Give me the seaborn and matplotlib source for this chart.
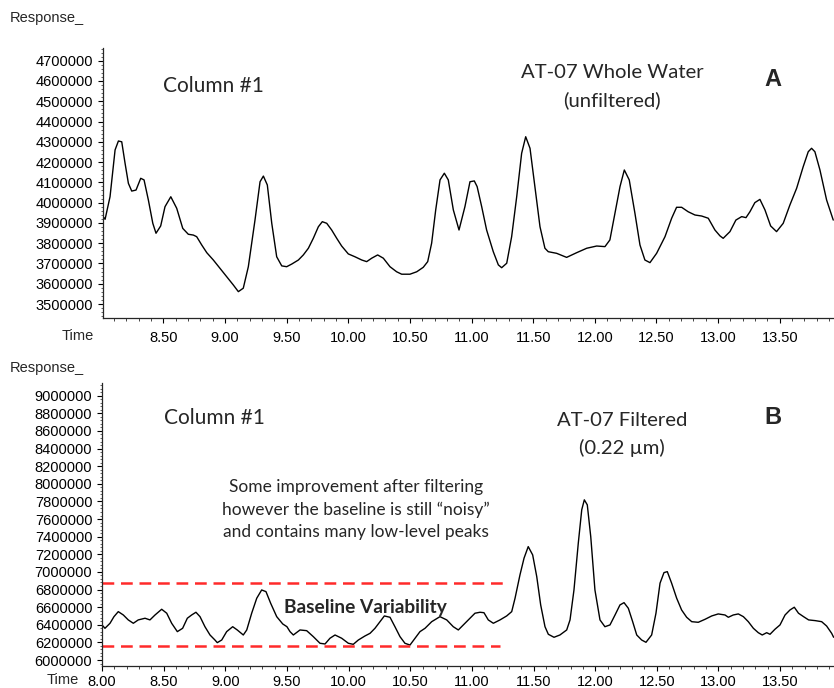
import matplotlib
matplotlib.use("Agg")
import matplotlib.pyplot as plt
from matplotlib.ticker import MultipleLocator, FormatStrFormatter
import seaborn as sns
import pandas as pd

# ---- Chromatogram A: AT-07 whole water (unfiltered) ----
time_a = [8.000, 8.027, 8.067, 8.108, 8.135, 8.162, 8.189, 8.216, 8.243, 8.278,
          8.316, 8.343, 8.378, 8.414, 8.440, 8.478, 8.513, 8.560, 8.608, 8.657,
          8.702, 8.743, 8.770, 8.811, 8.852, 8.905, 8.959, 9.014, 9.067, 9.108,
          9.148, 9.189, 9.243, 9.284, 9.311, 9.343, 9.379, 9.419, 9.460, 9.500,
          9.541, 9.595, 9.635, 9.676, 9.716, 9.757, 9.789, 9.825, 9.865, 9.906,
          9.946, 10.000, 10.054, 10.109, 10.149, 10.190, 10.238, 10.284, 10.338, 10.392,
          10.433, 10.500, 10.555, 10.608, 10.644, 10.676, 10.709, 10.744, 10.779, 10.811,
          10.852, 10.898, 10.946, 10.987, 11.022, 11.045, 11.082, 11.122, 11.176, 11.217,
          11.244, 11.285, 11.325, 11.366, 11.406, 11.439, 11.474, 11.514, 11.555, 11.595,
          11.622, 11.690, 11.771, 11.852, 11.934, 12.015, 12.082, 12.122, 12.163, 12.204,
          12.239, 12.279, 12.325, 12.366, 12.406, 12.447, 12.501, 12.569, 12.623, 12.663,
          12.704, 12.757, 12.812, 12.866, 12.920, 12.974, 13.015, 13.041, 13.096, 13.144,
          13.191, 13.226, 13.258, 13.298, 13.339, 13.380, 13.426, 13.474, 13.528, 13.582,
          13.637, 13.690, 13.731, 13.758, 13.785, 13.826, 13.880, 13.934]
resp_a = [3939000, 3918000, 4029000, 4260000, 4304000, 4300000, 4194000, 4095000, 4057000, 4062000,
          4120000, 4112000, 4013000, 3898000, 3849000, 3885000, 3980000, 4029000, 3972000, 3873000,
          3844000, 3840000, 3832000, 3791000, 3753000, 3717000, 3676000, 3635000, 3594000, 3561000,
          3578000, 3684000, 3914000, 4103000, 4131000, 4087000, 3898000, 3733000, 3688000, 3684000,
          3697000, 3717000, 3742000, 3775000, 3824000, 3881000, 3906000, 3898000, 3865000, 3824000,
          3786000, 3747000, 3733000, 3717000, 3709000, 3726000, 3742000, 3726000, 3684000, 3659000,
          3647000, 3647000, 3659000, 3681000, 3709000, 3800000, 3964000, 4112000, 4145000, 4112000,
          3964000, 3865000, 3980000, 4103000, 4107000, 4079000, 3980000, 3865000, 3758000, 3693000,
          3679000, 3701000, 3832000, 4029000, 4243000, 4325000, 4268000, 4079000, 3881000, 3775000,
          3758000, 3750000, 3730000, 3753000, 3775000, 3786000, 3783000, 3816000, 3948000, 4079000,
          4161000, 4112000, 3948000, 3791000, 3717000, 3704000, 3750000, 3832000, 3923000, 3977000,
          3977000, 3955000, 3939000, 3934000, 3923000, 3865000, 3836000, 3824000, 3857000, 3914000,
          3931000, 3926000, 3955000, 4000000, 4016000, 3964000, 3885000, 3857000, 3898000, 3988000,
          4071000, 4177000, 4251000, 4268000, 4251000, 4161000, 4013000, 3914000]

# ---- Chromatogram B: AT-07 filtered (0.22 um) ----
time_b = [8.000, 8.024, 8.065, 8.097, 8.132, 8.173, 8.213, 8.254, 8.294, 8.349,
          8.389, 8.430, 8.484, 8.525, 8.565, 8.611, 8.654, 8.692, 8.727, 8.762,
          8.795, 8.835, 8.876, 8.916, 8.935, 8.971, 9.011, 9.060, 9.097, 9.146,
          9.174, 9.214, 9.255, 9.295, 9.330, 9.368, 9.417, 9.466, 9.500, 9.525,
          9.552, 9.606, 9.660, 9.714, 9.768, 9.809, 9.849, 9.890, 9.944, 9.998,
          10.038, 10.079, 10.133, 10.174, 10.214, 10.255, 10.290, 10.336, 10.376, 10.417,
          10.457, 10.498, 10.539, 10.579, 10.620, 10.674, 10.741, 10.796, 10.849, 10.890,
          10.944, 10.998, 11.025, 11.066, 11.098, 11.133, 11.174, 11.228, 11.282, 11.323,
          11.350, 11.390, 11.423, 11.457, 11.493, 11.526, 11.558, 11.593, 11.620, 11.666,
          11.714, 11.769, 11.796, 11.828, 11.863, 11.891, 11.912, 11.936, 11.964, 11.998,
          12.039, 12.079, 12.120, 12.161, 12.201, 12.234, 12.269, 12.304, 12.337, 12.377,
          12.412, 12.458, 12.493, 12.526, 12.558, 12.585, 12.620, 12.661, 12.701, 12.742,
          12.783, 12.836, 12.891, 12.945, 12.998, 13.053, 13.080, 13.120, 13.161, 13.202,
          13.242, 13.283, 13.323, 13.355, 13.391, 13.418, 13.458, 13.499, 13.540, 13.580,
          13.615, 13.649, 13.690, 13.731, 13.785, 13.837, 13.877, 13.918, 13.934]
resp_b = [6398000, 6360000, 6417000, 6492000, 6549000, 6511000, 6455000, 6417000, 6455000, 6474000,
          6455000, 6511000, 6576000, 6531000, 6417000, 6322000, 6360000, 6474000, 6511000, 6542000,
          6492000, 6378000, 6284000, 6227000, 6197000, 6227000, 6322000, 6378000, 6341000, 6284000,
          6341000, 6531000, 6701000, 6795000, 6776000, 6644000, 6492000, 6409000, 6378000, 6322000,
          6284000, 6341000, 6333000, 6265000, 6190000, 6182000, 6247000, 6284000, 6247000, 6190000,
          6178000, 6227000, 6273000, 6303000, 6360000, 6435000, 6500000, 6485000, 6378000, 6265000,
          6190000, 6170000, 6247000, 6322000, 6360000, 6435000, 6492000, 6455000, 6378000, 6341000,
          6417000, 6492000, 6531000, 6542000, 6537000, 6455000, 6417000, 6455000, 6500000, 6549000,
          6701000, 6966000, 7156000, 7287000, 7193000, 6947000, 6625000, 6378000, 6292000, 6258000,
          6284000, 6341000, 6455000, 6795000, 7326000, 7705000, 7818000, 7761000, 7401000, 6795000,
          6455000, 6378000, 6398000, 6511000, 6625000, 6651000, 6587000, 6435000, 6284000, 6227000,
          6201000, 6284000, 6531000, 6872000, 6992000, 7003000, 6872000, 6701000, 6568000, 6485000,
          6435000, 6428000, 6462000, 6500000, 6523000, 6511000, 6485000, 6511000, 6523000, 6492000,
          6435000, 6360000, 6310000, 6284000, 6310000, 6292000, 6349000, 6398000, 6511000, 6568000,
          6599000, 6531000, 6492000, 6455000, 6447000, 6435000, 6386000, 6303000, 6258000]

# Baseline variability band (upper, lower) and the time span each dashed line covers
band_levels = [6870000, 6160000]
band_ends = [11.27, 11.23]

sns.set_style("ticks")
plt.rcParams["font.family"] = ["Liberation Sans", "DejaVu Sans"]
plt.rcParams["axes.linewidth"] = 0.9

W, H = 834, 688
fig = plt.figure(figsize=(W / 100, H / 100), dpi=100)


def frac_box(left, top, right, bottom):
    return [left / W, 1 - bottom / H, (right - left) / W, (bottom - top) / H]


ax_a = fig.add_axes(frac_box(103, 48, 834, 318))
ax_b = fig.add_axes(frac_box(102, 383, 834, 666))

df_a = pd.DataFrame({"Time": time_a, "Response": resp_a})
df_b = pd.DataFrame({"Time": time_b, "Response": resp_b})

sns.lineplot(data=df_a, x="Time", y="Response", ax=ax_a, color="black",
             linewidth=1.0, estimator=None)
sns.lineplot(data=df_b, x="Time", y="Response", ax=ax_b, color="black",
             linewidth=1.0, estimator=None)

for lvl, end in zip(band_levels, band_ends):
    ax_b.plot([8.0, end], [lvl, lvl], color="#ff2a2a", linewidth=1.8,
              dashes=(4.7, 2.7), solid_capstyle="butt")

ax_a.set_xlim(8.01, 13.94)
ax_a.set_ylim(3431000, 4762600)
ax_b.set_xlim(8.0, 13.937)
ax_b.set_ylim(5932000, 9144000)

tick_font = 10.5
for ax, ymaj, ymin, xpad in ((ax_a, 100000, 20000, 6.0), (ax_b, 200000, 40000, 2.8)):
    sns.despine(ax=ax)
    ax.set_xlabel("")
    ax.set_ylabel("")
    ax.xaxis.set_major_locator(MultipleLocator(0.5))
    ax.xaxis.set_minor_locator(MultipleLocator(0.1))
    ax.xaxis.set_major_formatter(FormatStrFormatter("%.2f"))
    ax.yaxis.set_major_locator(MultipleLocator(ymaj))
    ax.yaxis.set_minor_locator(MultipleLocator(ymin))
    ax.yaxis.set_major_formatter(FormatStrFormatter("%d"))
    ax.tick_params(axis="x", which="major", length=3.5, width=0.8, pad=xpad,
                   labelsize=tick_font, colors="black")
    ax.tick_params(axis="x", which="minor", length=2.2, width=0.6)
    ax.tick_params(axis="y", which="major", length=3.5, width=0.8, pad=3.5,
                   labelsize=tick_font, colors="black")
    ax.tick_params(axis="y", which="minor", length=1.6, width=0.5)
    ax.set_facecolor("white")

# axis captions in instrument style
fig.text(10 / W, 1 - 18 / H, "Response_", fontsize=tick_font, va="center", ha="left")
fig.text(10 / W, 1 - 368 / H, "Response_", fontsize=tick_font, va="center", ha="left")
fig.text(78 / W, 1 - 336 / H, "Time", fontsize=tick_font, va="center", ha="center")
fig.text(63 / W, 1 - 680 / H, "Time", fontsize=tick_font, va="center", ha="center")

note_font = ["Lato", "DejaVu Sans"]

# panel A annotations
fig.text(213 / W, 1 - 86 / H, "Column #1", fontsize=15, family=note_font,
         ha="center", va="center")
fig.text(612 / W, 1 - 72 / H, "AT-07 Whole Water", fontsize=14.6, family=note_font,
         ha="center", va="center")
fig.text(612 / W, 1 - 100 / H, "(unfiltered)", fontsize=14.6, family=note_font,
         ha="center", va="center")
fig.text(773 / W, 1 - 80 / H, "A", fontsize=17, fontweight="bold",
         ha="center", va="center")

# panel B annotations
fig.text(214 / W, 1 - 418 / H, "Column #1", fontsize=15, family=note_font,
         ha="center", va="center")
fig.text(622 / W, 1 - 421 / H, "AT-07 Filtered", fontsize=14.6, family=note_font,
         ha="center", va="center")
fig.text(622 / W, 1 - 448 / H, "(0.22 \u00b5m)", fontsize=14.6, family=note_font,
         ha="center", va="center")
fig.text(773 / W, 1 - 418 / H, "B", fontsize=17, fontweight="bold",
         ha="center", va="center")

note_lines = ["Some improvement after filtering",
              "however the baseline is still \u201cnoisy\u201d",
              "and contains many low-level peaks"]
for i, line in enumerate(note_lines):
    fig.text(356 / W, 1 - (487 + 22.5 * i) / H, line, fontsize=12.5,
             family=note_font, ha="center", va="center")

fig.text(365 / W, 1 - 607 / H, "Baseline Variability", fontsize=13.8,
         family=note_font, fontweight="bold", ha="center", va="center")

fig.savefig("out.png", dpi=100, facecolor="white")
